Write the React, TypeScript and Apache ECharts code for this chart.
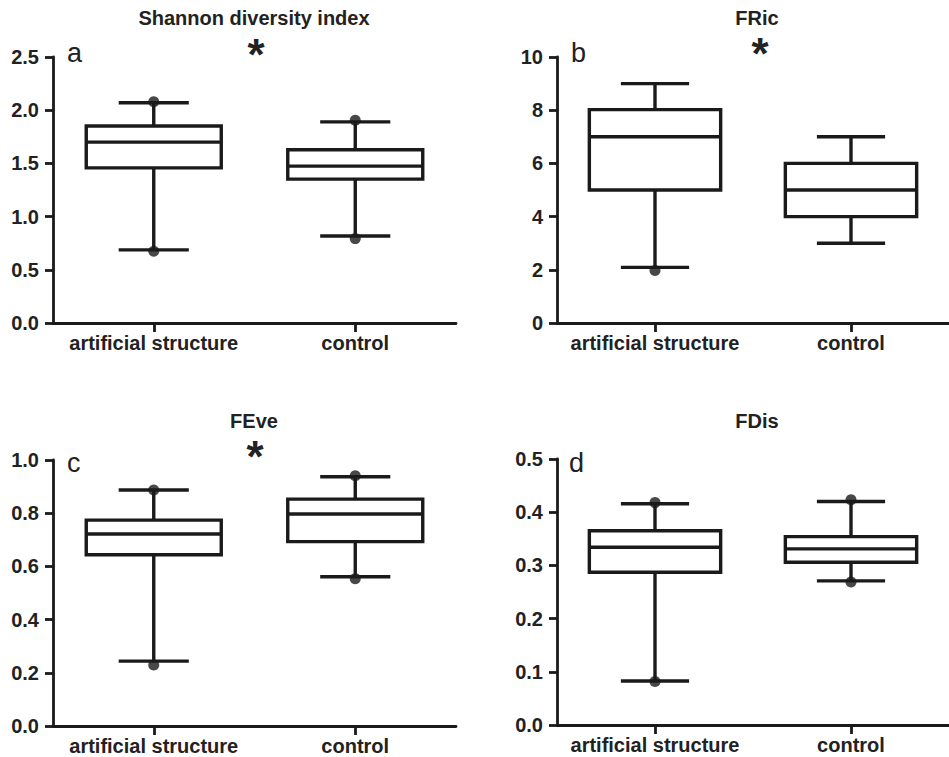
import React, { useEffect, useRef } from "react";
import * as echarts from "echarts";

const categories = ["artificial structure", "control"];

const panelTitles = ["Shannon diversity index", "FRic", "FEve", "FDis"];
const panelLetters = ["a", "b", "c", "d"];
const panelStars = ["*", "*", "*", ""];

// [low whisker, Q1, median, Q3, high whisker]
const shannonBox = [
  [0.687, 1.458, 1.7, 1.852, 2.07],
  [0.818, 1.352, 1.474, 1.628, 1.89],
];
const shannonDots = [[0, 2.08], [0, 0.675], [1, 1.906], [1, 0.793]];

const fricBox = [
  [2.09, 5, 7, 8.02, 9],
  [3, 4, 5, 6, 7],
];
const fricDots = [[0, 1.97]];

const feveBox = [
  [0.244, 0.644, 0.722, 0.774, 0.887],
  [0.561, 0.693, 0.797, 0.853, 0.937],
];
const feveDots = [[0, 0.887], [0, 0.229], [1, 0.941], [1, 0.554]];

const fdisBox = [
  [0.0828, 0.287, 0.334, 0.365, 0.416],
  [0.271, 0.306, 0.331, 0.354, 0.42],
];
const fdisDots = [[0, 0.418], [0, 0.0816], [1, 0.4235], [1, 0.269]];

const yMax = [2.5, 10, 1.0, 0.5];
const yStep = [0.5, 2, 0.2, 0.1];
const yDecimals = [1, 0, 1, 1];

const boxes = [shannonBox, fricBox, feveBox, fdisBox];
const dots = [shannonDots, fricDots, feveDots, fdisDots];

const INK = "#1a1a1a";
const FONT = "Liberation Sans, Arial, sans-serif";

const grids = [
  { left: 53, top: 57, width: 403, height: 266 },
  { left: 557, top: 57, width: 403, height: 266 },
  { left: 53, top: 460, width: 403, height: 266 },
  { left: 557, top: 459, width: 403, height: 266 },
];

const titlePos = [
  [254, 18],
  [757, 18],
  [254, 421],
  [757, 421],
];
const letterPos = [
  [67, 53],
  [571, 53],
  [67, 463],
  [569, 463],
];
const starPos = [
  [256, 54],
  [760, 53],
  [255, 456],
  [0, 0],
];

function renderBox(params: any, api: any) {
  const x = api.value(0);
  const lo = api.coord([x, api.value(1)]);
  const q1 = api.coord([x, api.value(2)]);
  const med = api.coord([x, api.value(3)]);
  const q3 = api.coord([x, api.value(4)]);
  const hi = api.coord([x, api.value(5)]);
  const band = api.size([1, 0])[0];
  const bw = band * 0.335;
  const cw = band * 0.174;
  const cx = lo[0];
  const style = { stroke: INK, lineWidth: 3.4, fill: null };
  return {
    type: "group",
    children: [
      { type: "line", shape: { x1: cx, y1: hi[1], x2: cx, y2: q3[1] }, style },
      { type: "line", shape: { x1: cx, y1: q1[1], x2: cx, y2: lo[1] }, style },
      { type: "line", shape: { x1: cx - cw, y1: hi[1], x2: cx + cw, y2: hi[1] }, style },
      { type: "line", shape: { x1: cx - cw, y1: lo[1], x2: cx + cw, y2: lo[1] }, style },
      {
        type: "rect",
        shape: { x: cx - bw, y: q3[1], width: bw * 2, height: q1[1] - q3[1] },
        style: { stroke: INK, lineWidth: 3.4, fill: "#ffffff" },
      },
      { type: "line", shape: { x1: cx - bw, y1: med[1], x2: cx + bw, y2: med[1] }, style },
    ],
  };
}

export default function App() {
  const ref = useRef<HTMLDivElement>(null);

  useEffect(() => {
    if (!ref.current) return;
    const chart = echarts.init(ref.current, undefined, { renderer: "svg" });

    const xAxis = grids.map((_, i) => ({
      type: "category",
      gridIndex: i,
      data: categories,
      axisLine: { show: true, lineStyle: { color: INK, width: 2.8 } },
      axisTick: {
        show: true,
        alignWithLabel: true,
        interval: 0,
        length: 9,
        lineStyle: { color: INK, width: 2.8 },
      },
      axisLabel: {
        interval: 0,
        hideOverlap: false,
        margin: 10,
        fontSize: 20,
        fontWeight: "bold",
        fontFamily: FONT,
        color: "#222",
      },
      splitLine: { show: false },
    }));

    const yAxis = grids.map((_, i) => ({
      type: "value",
      gridIndex: i,
      min: 0,
      max: yMax[i],
      interval: yStep[i],
      axisLine: { show: true, onZero: false, lineStyle: { color: INK, width: 2.8 } },
      axisTick: { show: true, length: 8, lineStyle: { color: INK, width: 2.8 } },
      axisLabel: {
        margin: 14,
        fontSize: 20,
        fontWeight: "bold",
        fontFamily: FONT,
        color: "#222",
        formatter: (v: number) => v.toFixed(yDecimals[i]),
      },
      splitLine: { show: false },
    }));

    const series: any[] = [];
    boxes.forEach((b, i) => {
      series.push({
        type: "custom",
        xAxisIndex: i,
        yAxisIndex: i,
        renderItem: renderBox,
        encode: { x: 0, y: [1, 2, 3, 4, 5] },
        data: b.map((row, k) => [k, ...row]),
        z: 2,
      });
      series.push({
        type: "scatter",
        xAxisIndex: i,
        yAxisIndex: i,
        symbol: "circle",
        symbolSize: 11,
        itemStyle: { color: INK },
        data: dots[i],
        z: 5,
      });
    });

    const graphic: any[] = [];
    panelTitles.forEach((t, i) => {
      graphic.push({
        type: "text",
        x: titlePos[i][0],
        y: titlePos[i][1],
        style: {
          text: t,
          fontSize: 20,
          fontWeight: "bold",
          fontFamily: FONT,
          fill: "#222",
          align: "center",
          verticalAlign: "middle",
        },
      });
      graphic.push({
        type: "text",
        x: letterPos[i][0],
        y: letterPos[i][1],
        style: {
          text: panelLetters[i],
          fontSize: 27,
          fontFamily: FONT,
          fill: "#222",
          align: "left",
          verticalAlign: "middle",
        },
      });
      if (panelStars[i]) {
        graphic.push({
          type: "text",
          x: starPos[i][0],
          y: starPos[i][1],
          style: {
            text: panelStars[i],
            fontSize: 44,
            fontWeight: "bold",
            fontFamily: FONT,
            fill: "#222",
            align: "center",
            verticalAlign: "middle",
          },
        });
      }
    });

    chart.setOption({
      animation: false,
      backgroundColor: "#ffffff",
      grid: grids,
      xAxis,
      yAxis,
      series,
      graphic,
    });

    return () => chart.dispose();
  }, []);

  return (
    <div
      ref={ref}
      style={{ position: "absolute", left: 0, top: 0, width: 949, height: 757 }}
    />
  );
}
